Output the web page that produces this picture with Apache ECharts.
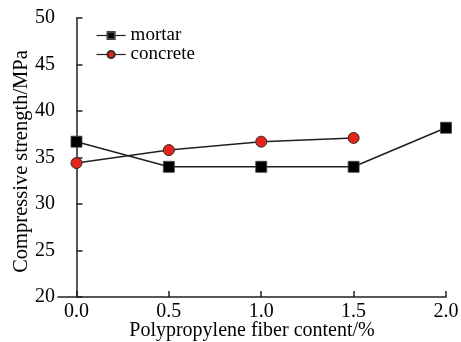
<!DOCTYPE html>
<html>
<head>
<meta charset="utf-8">
<script src="https://cdn.jsdelivr.net/npm/echarts@6/dist/echarts.min.js"></script>
<style>
html,body{margin:0;padding:0;background:#fff;}
#chart{width:461px;height:342px;}
</style>
</head>
<body>
<div id="chart"></div>
<script>
// Fiber content (%) on the x axis
var fiberContent = [0.0, 0.5, 1.0, 1.5, 2.0];
// Compressive strength (MPa)
var mortar = [36.7, 34.0, 34.0, 34.0, 38.2];
var concrete = [34.4, 35.8, 36.7, 37.1];
var xTicks = [0.0, 0.5, 1.0, 1.5, 2.0];

var FONT = 'Liberation Serif';
var INK = '#231f20';

function pairs(xs, ys) {
  return ys.map(function (v, i) { return [xs[i], v]; });
}

var chart = echarts.init(document.getElementById('chart'));
chart.setOption({
  animation: false,
  backgroundColor: '#fff',
  grid: { left: 58, right: 15, top: 18, bottom: 45, containLabel: false, outerBoundsMode: 'none' },
  legend: {
    left: 91, top: 21, orient: 'vertical', itemGap: 0,
    itemWidth: 29, itemHeight: 9,
    lineStyle: { width: 1.2 },
    textStyle: { fontFamily: FONT, fontSize: 19, lineHeight: 18, color: '#000' },
    data: ['mortar', 'concrete']
  },
  xAxis: {
    type: 'value', min: -0.1, max: 2.0,
    name: 'Polypropylene fiber content/%', nameLocation: 'middle', nameGap: 24,
    nameMoveOverlap: false,
    nameTextStyle: { fontFamily: FONT, fontSize: 20, color: '#000' },
    axisLine: { lineStyle: { color: INK, width: 1.5 } },
    axisTick: { inside: true, length: 6, customValues: xTicks, lineStyle: { color: INK, width: 1.5 } },
    axisLabel: { customValues: xTicks, fontFamily: FONT, fontSize: 20, color: '#000', margin: 5,
      formatter: function (v) { return v.toFixed(1); } },
    splitLine: { show: false }
  },
  yAxis: {
    type: 'value', min: 20, max: 50, interval: 5,
    name: 'Compressive strength/MPa', nameLocation: 'middle', nameGap: 26,
    nameMoveOverlap: false,
    nameTextStyle: { fontFamily: FONT, fontSize: 20.5, color: '#000', padding: [0, 8, 0, 0] },
    axisLine: { show: true, lineStyle: { color: INK, width: 1.5 } },
    axisTick: { inside: true, length: 6, lineStyle: { color: INK, width: 1.5 } },
    axisLabel: { fontFamily: FONT, fontSize: 20, color: '#000', margin: 3 },
    splitLine: { show: false }
  },
  series: [
    {
      name: 'mortar', type: 'line', data: pairs(fiberContent, mortar),
      symbol: 'rect', symbolSize: 11,
      lineStyle: { color: INK, width: 1.5 },
      itemStyle: { color: '#000', borderColor: '#444', borderWidth: 0.8 }
    },
    {
      name: 'concrete', type: 'line', data: pairs(fiberContent, concrete),
      symbol: 'circle', symbolSize: 11,
      lineStyle: { color: INK, width: 1.5 },
      itemStyle: { color: '#e3241b', borderColor: '#3a2a2a', borderWidth: 1 }
    }
  ]
});
</script>
</body>
</html>
